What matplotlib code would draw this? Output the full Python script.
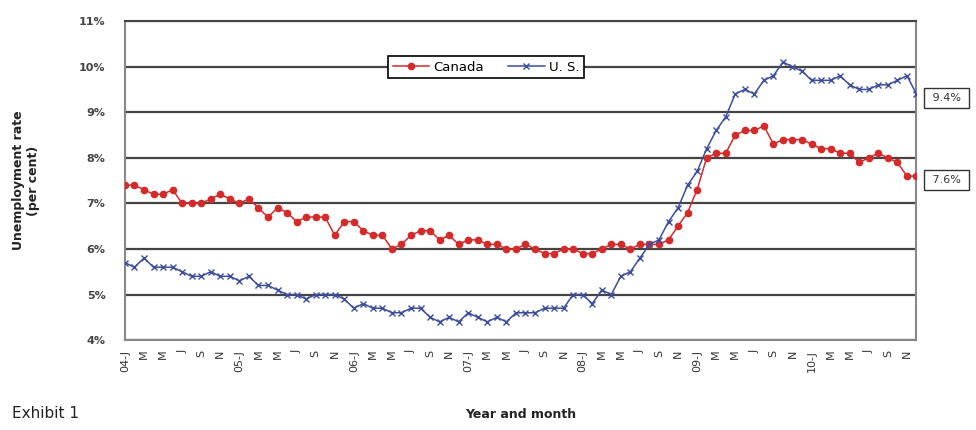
import matplotlib
matplotlib.use("Agg")
import matplotlib.pyplot as plt

# monthly unemployment rates, Jan 2004 - Dec 2010
canada = [7.4, 7.4, 7.3, 7.2, 7.2, 7.3, 7.0, 7.0, 7.0, 7.1, 7.2, 7.1,
          7.0, 7.1, 6.9, 6.7, 6.9, 6.8, 6.6, 6.7, 6.7, 6.7, 6.3, 6.6,
          6.6, 6.4, 6.3, 6.3, 6.0, 6.1, 6.3, 6.4, 6.4, 6.2, 6.3, 6.1,
          6.2, 6.2, 6.1, 6.1, 6.0, 6.0, 6.1, 6.0, 5.9, 5.9, 6.0, 6.0,
          5.9, 5.9, 6.0, 6.1, 6.1, 6.0, 6.1, 6.1, 6.1, 6.2, 6.5, 6.8,
          7.3, 8.0, 8.1, 8.1, 8.5, 8.6, 8.6, 8.7, 8.3, 8.4, 8.4, 8.4,
          8.3, 8.2, 8.2, 8.1, 8.1, 7.9, 8.0, 8.1, 8.0, 7.9, 7.6, 7.6]
us = [5.7, 5.6, 5.8, 5.6, 5.6, 5.6, 5.5, 5.4, 5.4, 5.5, 5.4, 5.4,
      5.3, 5.4, 5.2, 5.2, 5.1, 5.0, 5.0, 4.9, 5.0, 5.0, 5.0, 4.9,
      4.7, 4.8, 4.7, 4.7, 4.6, 4.6, 4.7, 4.7, 4.5, 4.4, 4.5, 4.4,
      4.6, 4.5, 4.4, 4.5, 4.4, 4.6, 4.6, 4.6, 4.7, 4.7, 4.7, 5.0,
      5.0, 4.8, 5.1, 5.0, 5.4, 5.5, 5.8, 6.1, 6.2, 6.6, 6.9, 7.4,
      7.7, 8.2, 8.6, 8.9, 9.4, 9.5, 9.4, 9.7, 9.8, 10.1, 10.0, 9.9,
      9.7, 9.7, 9.7, 9.8, 9.6, 9.5, 9.5, 9.6, 9.6, 9.7, 9.8, 9.4]

years = ['04', '05', '06', '07', '08', '09', '10']
months = ['J', 'M', 'M', 'J', 'S', 'N']
tick_labels = []
for yr in years:
    for i, m in enumerate(months):
        tick_labels.append(yr + '-' + m if i == 0 else m)

yticks = [4, 5, 6, 7, 8, 9, 10, 11]

red = '#d42a2a'
blue = '#3b4d9c'

x = list(range(len(canada)))

fig = plt.figure(figsize=(9.76, 4.30), dpi=100)
ax = fig.add_axes([0.128, 0.209, 0.811, 0.742])

ax.plot(x, canada, color=red, lw=1.1, marker='o', markersize=4.5,
        markeredgecolor=red, label='Canada', zorder=3)
ax.plot(x, us, color=blue, lw=1.1, marker='x', markersize=4,
        markeredgewidth=1.0, label='U. S.', zorder=3)

ax.set_xlim(0, 83)
ax.set_ylim(4, 11)
ax.set_yticks(yticks)
ax.set_yticklabels(['%d%%' % v for v in yticks], fontsize=8, color='#444444',
                   fontweight='bold')
ax.set_xticks(range(0, len(canada), 2))
ax.set_xticklabels(tick_labels, rotation=90, fontsize=8, color='#333333')
ax.tick_params(axis='y', length=0, pad=14)
ax.tick_params(axis='x', length=0, pad=7)

ax.grid(axis='y', color='#444444', lw=1.6)
ax.set_axisbelow(True)
for s in ax.spines.values():
    s.set_color('#888888')
    s.set_linewidth(1.5)
ax.spines['top'].set_color('#444444')

leg = ax.legend(loc='center', bbox_to_anchor=(0.456, 0.856), ncol=2,
                fontsize=9.5, frameon=True, fancybox=False, framealpha=1,
                edgecolor='black', handlelength=2.8, columnspacing=1.8,
                borderpad=0.35, handletextpad=0.3)
leg.get_frame().set_linewidth(1.2)

# end-of-series value boxes
for series in (us, canada):
    ax.annotate(' %.1f%% ' % series[-1], xy=(83, series[-1]), xycoords='data',
                xytext=(9, -3), textcoords='offset points', ha='left',
                va='center', fontsize=8, color='#333333', annotation_clip=False,
                bbox=dict(boxstyle='square,pad=0.45', fc='white',
                          ec='#333333', lw=1))

fig.text(0.027, 0.58, 'Unemployment rate\n(per cent)', rotation=90,
         ha='center', va='center', fontsize=9, fontweight='bold',
         color='#222222', linespacing=1.2)
fig.text(0.533, 0.022, 'Year and month', ha='center', va='bottom',
         fontsize=9, fontweight='bold', color='#222222')
fig.text(0.012, 0.02, 'Exhibit 1', ha='left', va='bottom', fontsize=11,
         family=['Liberation Sans Narrow', 'DejaVu Sans'], color='#222222')

fig.savefig('out.png', dpi=100, facecolor='white')
